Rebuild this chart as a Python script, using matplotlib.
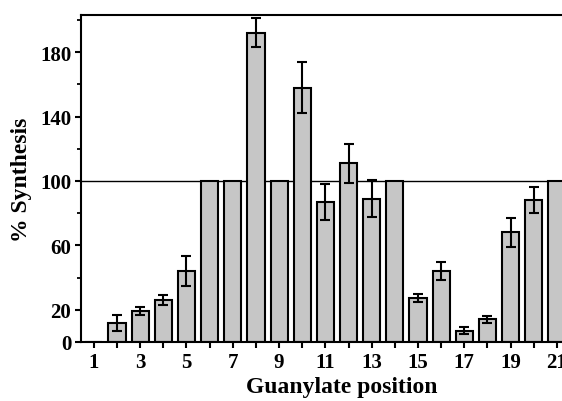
import numpy as np
import matplotlib
matplotlib.use("Agg")
from matplotlib import pyplot as plt

positions = list(range(1, 22))
synthesis = [0, 12, 19, 26, 44, 100, 100, 192, 100, 158, 87,
             111, 89, 100, 27, 44, 7, 14, 68, 88, 100]
errors = [0, 5, 2.5, 3, 9.5, 0, 0, 9, 0, 16, 11,
          12, 11.5, 0, 2.5, 5.5, 2, 2, 9, 8, 0]
ytick_vals = [0, 20, 60, 100, 140, 180]
ytick_minor = [40, 80, 120, 160, 200]
xtick_labels = [str(p) if p % 2 == 1 else "" for p in positions]

plt.rcParams['font.family'] = ['Liberation Serif', 'DejaVu Serif']
plt.rcParams['font.weight'] = 'bold'

fig = plt.figure(figsize=(5.62, 4.02), dpi=100)
ax = fig.add_axes([0.144, 0.147, 0.856, 0.813])

pos = np.array(positions)
vals = np.array(synthesis)
errs = np.array(errors)

ax.axhline(100, color='black', lw=1.0, zorder=1)
ax.bar(pos, vals, width=0.74, color='#c6c6c6', edgecolor='black',
       linewidth=1.5, zorder=2)
m = errs > 0
ax.errorbar(pos[m], vals[m], yerr=errs[m], fmt='none', ecolor='black',
            elinewidth=1.5, capsize=3.5, capthick=1.5, zorder=3)

ax.set_xlim(0.44, 21.22)
ax.set_ylim(0, 203)

ax.set_xticks(positions)
ax.set_xticklabels(xtick_labels)
ax.set_yticks(ytick_vals)
ax.set_yticks(ytick_minor, minor=True)
ax.tick_params(axis='both', which='major', direction='out', length=4,
               width=1.5, labelsize=15, pad=3)
ax.tick_params(axis='y', which='minor', direction='out', length=3, width=1.3)
for lab in ax.get_xticklabels() + ax.get_yticklabels():
    lab.set_fontweight('bold')

ax.spines['right'].set_visible(False)
for s in ['left', 'bottom', 'top']:
    ax.spines[s].set_linewidth(1.5)

ax.set_xlabel('Guanylate position', fontsize=17, fontweight='bold', labelpad=3)
ax.xaxis.set_label_coords(0.543, -0.105)
ax.set_ylabel('% Synthesis', fontsize=17, fontweight='bold', labelpad=6)

fig.savefig('out.png', dpi=100)
